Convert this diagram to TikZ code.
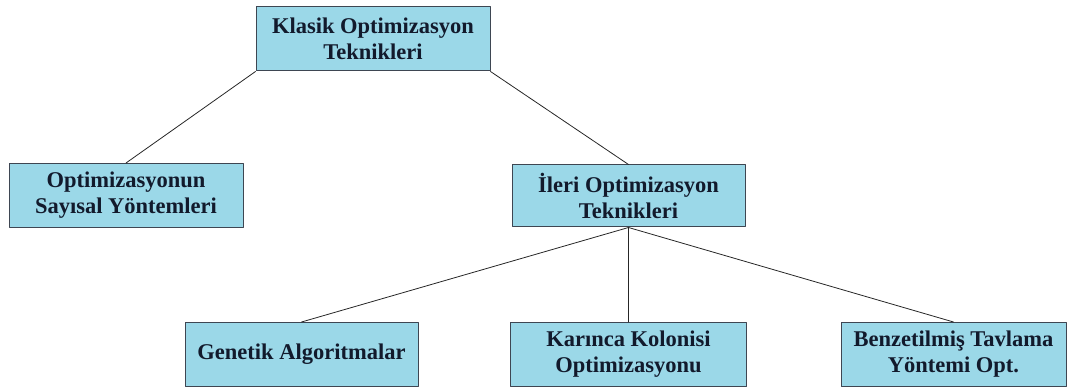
\documentclass[tikz,border=0pt]{standalone}
\usepackage{fontspec}
\setmainfont{Liberation Serif}
\definecolor{boxblue}{RGB}{155,216,232}
\definecolor{boxedge}{RGB}{62,70,82}
\definecolor{boxtext}{RGB}{18,26,44}

\begin{document}
\begin{tikzpicture}[x=1pt,y=-1pt,line cap=round,line join=round,
  box/.style={draw=boxedge,fill=boxblue,line width=1pt,text=boxtext,align=center,inner sep=0pt,
    font=\fontsize{22.5}{26}\selectfont\bfseries,minimum height=64pt},
  link/.style={black!85,line width=0.8pt}]
\useasboundingbox (0,0) rectangle (1068,390);
\node[box,minimum width=234pt] (klasik) at (373,39) {Klasik Optimizasyon\\Teknikleri};
\node[box,minimum width=234pt] (sayisal) at (126,195.5) {Optimizasyonun\\Sayısal Yöntemleri};
\node[box,minimum width=233pt,minimum height=62pt] (ileri) at (628.5,196) {İleri Optimizasyon\\Teknikleri};
\node[box,minimum width=233pt] (genetik) at (301.5,354.5) {Genetik Algoritmalar};
\node[box,minimum width=236pt] (karinca) at (628.5,354.5) {Karınca Kolonisi\\Optimizasyonu};
\node[box,minimum width=225pt] (tavlama) at (953.5,354.5) {Benzetilmiş Tavlama\\Yöntemi Opt.};
\draw[link] (klasik.south west) -- (sayisal.north);
\draw[link] (klasik.south east) -- (ileri.north);
\draw[link] (ileri.south) -- (genetik.north);
\draw[link] (ileri.south) -- (karinca.north);
\draw[link] (ileri.south) -- (tavlama.north);
\end{tikzpicture}
\end{document}
